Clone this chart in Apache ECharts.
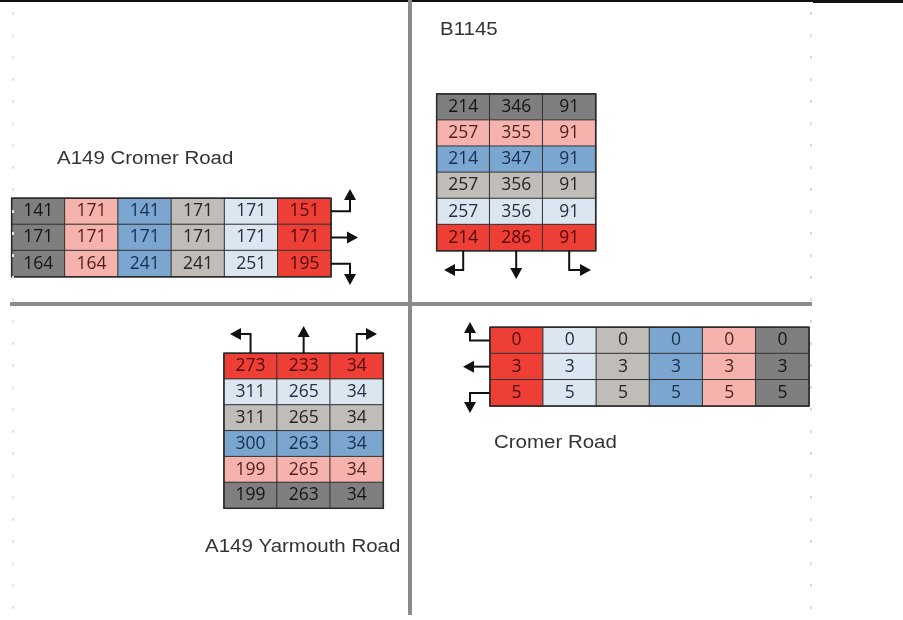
<!DOCTYPE html>
<html>
<head>
<meta charset="utf-8">
<script src="https://cdn.jsdelivr.net/npm/echarts@6/dist/echarts.min.js"></script>
<style>html,body{margin:0;padding:0;background:#fff}#c{width:903px;height:620px}</style>
</head>
<body>
<div id="c"></div>
<script>
// ---- data ----
var cromerA149 = [
  [141, 171, 141, 171, 171, 151],
  [171, 171, 171, 171, 171, 171],
  [164, 164, 241, 241, 251, 195]
];
var b1145 = [
  [214, 346, 91],
  [257, 355, 91],
  [214, 347, 91],
  [257, 356, 91],
  [257, 356, 91],
  [214, 286, 91]
];
var yarmouth = [
  [273, 233, 34],
  [311, 265, 34],
  [311, 265, 34],
  [300, 263, 34],
  [199, 265, 34],
  [199, 263, 34]
];
var cromerRd = [
  [0, 0, 0, 0, 0, 0],
  [3, 3, 3, 3, 3, 3],
  [5, 5, 5, 5, 5, 5]
];
var roadNames = ['A149 Cromer Road', 'B1145', 'A149 Yarmouth Road', 'Cromer Road'];

// ---- styles ----
var COL = {
  dark:  {bg: '#7f7f7f', fg: '#161616'},
  pink:  {bg: '#f6b3ae', fg: '#4e1e1e'},
  blue:  {bg: '#7ba6d0', fg: '#162f4e'},
  grey:  {bg: '#c0bcb7', fg: '#252525'},
  light: {bg: '#dce6f1', fg: '#24303e'},
  red:   {bg: '#ee3f37', fg: '#4e0808'}
};
var orderA = ['dark', 'pink', 'blue', 'grey', 'light', 'red'];   // table 1 columns, table 2 rows
var orderB = ['red', 'light', 'grey', 'blue', 'pink', 'dark'];   // table 3 rows, table 4 columns

var grids = [
  {left: 11.7, top: 198.3, width: 319.3, height: 78.4},
  {left: 436.7, top: 94, width: 159, height: 156.7},
  {left: 224, top: 353.3, width: 159.3, height: 155},
  {left: 490, top: 327.3, width: 319, height: 78.7}
];

function idx(n) { var a = []; for (var i = 0; i < n; i++) a.push(String(i)); return a; }

function cells(table, colorFn) {
  var out = [];
  table.forEach(function (row, r) {
    row.forEach(function (v, c) {
      var k = COL[colorFn(r, c)];
      out.push({
        value: [c, r, v],
        itemStyle: {color: k.bg},
        label: {color: k.fg}
      });
    });
  });
  return out;
}

var tables = [
  {t: cromerA149, f: function (r, c) { return orderA[c]; }},
  {t: b1145,      f: function (r, c) { return orderA[r]; }},
  {t: yarmouth,   f: function (r, c) { return orderB[r]; }},
  {t: cromerRd,   f: function (r, c) { return orderB[c]; }}
];

var xAxes = [], yAxes = [], series = [];
tables.forEach(function (tb, i) {
  xAxes.push({type: 'category', gridIndex: i, data: idx(tb.t[0].length), show: false});
  yAxes.push({type: 'category', gridIndex: i, data: idx(tb.t.length), inverse: true, show: false});
  series.push({
    type: 'heatmap', xAxisIndex: i, yAxisIndex: i,
    data: cells(tb.t, tb.f),
    itemStyle: {borderColor: '#333', borderWidth: 1},
    label: {show: true, fontFamily: 'Open Sans', fontSize: 17.5, formatter: function (p) { return p.value[2]; }},
    emphasis: {disabled: true},
    animation: false
  });
});

// ---- decorations (roads, arrows, names) ----
var G = [];
function line(pts, w, c, dash) {
  G.push({type: 'polyline', shape: {points: pts}, style: {stroke: c || '#111', lineWidth: w || 2, fill: null, lineDash: dash || null}, z: 10});
}
function head(x, y, dir) {
  var s = 6, L = 11, p;
  if (dir === 'up') p = [[x, y], [x - s, y + L], [x + s, y + L]];
  if (dir === 'down') p = [[x, y], [x - s, y - L], [x + s, y - L]];
  if (dir === 'left') p = [[x, y], [x + L, y - s], [x + L, y + s]];
  if (dir === 'right') p = [[x, y], [x - L, y - s], [x - L, y + s]];
  G.push({type: 'polygon', shape: {points: p}, style: {fill: '#111'}, z: 11});
}
function text(s, x, y) {
  G.push({type: 'text', x: x, y: y, scaleX: 1.17, style: {text: s, fontFamily: 'Liberation Sans', fontSize: 17.5, fill: '#333', textVerticalAlign: 'middle'}, z: 10});
}

// roads
G.push({type: 'rect', shape: {x: 0, y: 0, width: 903, height: 2}, style: {fill: '#111'}});
G.push({type: 'rect', shape: {x: 813, y: 0, width: 90, height: 3}, style: {fill: '#111'}});
G.push({type: 'rect', shape: {x: 408, y: 0, width: 4, height: 615}, style: {fill: '#8a8a8a'}});
G.push({type: 'rect', shape: {x: 10, y: 302, width: 802, height: 4}, style: {fill: '#8a8a8a'}});
line([[811, 12], [811, 612]], 2, '#dcdcdc', [3, 19]);
line([[13, 12], [13, 612]], 2, '#e4e4e4', [3, 19]);

// table 1 arrows (right)
var g = grids[0], rh = g.height / 3, xr = g.left + g.width;
line([[xr, g.top + rh * 0.5], [350, g.top + rh * 0.5], [350, 200]]); head(350, 189, 'up');
line([[xr, g.top + rh * 1.5], [348, g.top + rh * 1.5]]); head(358, g.top + rh * 1.5, 'right');
line([[xr, g.top + rh * 2.5], [350, g.top + rh * 2.5], [350, 274]]); head(350, 285, 'down');

// table 2 arrows (below)
g = grids[1]; var cw = g.width / 3, yb = g.top + g.height;
line([[g.left + cw * 0.5, yb], [g.left + cw * 0.5, 270], [454, 270]]); head(444, 270, 'left');
line([[g.left + cw * 1.5, yb], [g.left + cw * 1.5, 268]]); head(g.left + cw * 1.5, 279, 'down');
line([[g.left + cw * 2.5, yb], [g.left + cw * 2.5, 270], [581, 270]]); head(591, 270, 'right');

// table 3 arrows (above)
g = grids[2]; cw = g.width / 3; var yt = g.top;
line([[g.left + cw * 0.5, yt], [g.left + cw * 0.5, 334], [241, 334]]); head(230, 334, 'left');
line([[g.left + cw * 1.5, yt], [g.left + cw * 1.5, 337]]); head(g.left + cw * 1.5, 326, 'up');
line([[g.left + cw * 2.5, yt], [g.left + cw * 2.5, 334], [367, 334]]); head(377, 334, 'right');

// table 4 arrows (left)
g = grids[3]; rh = g.height / 3; var xl = g.left;
line([[xl, g.top + rh * 0.5], [470, g.top + rh * 0.5], [470, 333]]); head(470, 322, 'up');
line([[xl, g.top + rh * 1.5], [473, g.top + rh * 1.5]]); head(463, g.top + rh * 1.5, 'left');
line([[xl, g.top + rh * 2.5], [470, g.top + rh * 2.5], [470, 402]]); head(470, 413, 'down');

// names
text(roadNames[0], 57, 159);
text(roadNames[1], 440, 30);
text(roadNames[2], 205, 547);
text(roadNames[3], 494, 443);

var chart = echarts.init(document.getElementById('c'), null, {renderer: 'canvas'});
chart.setOption({
  animation: false,
  backgroundColor: '#fff',
  grid: grids.map(function (gr) { return Object.assign({show: true, borderColor: '#2a2a2a', borderWidth: 1.5, backgroundColor: 'transparent', z: 3}, gr); }),
  xAxis: xAxes,
  yAxis: yAxes,
  series: series,
  graphic: {elements: G}
});
</script>
</body>
</html>
